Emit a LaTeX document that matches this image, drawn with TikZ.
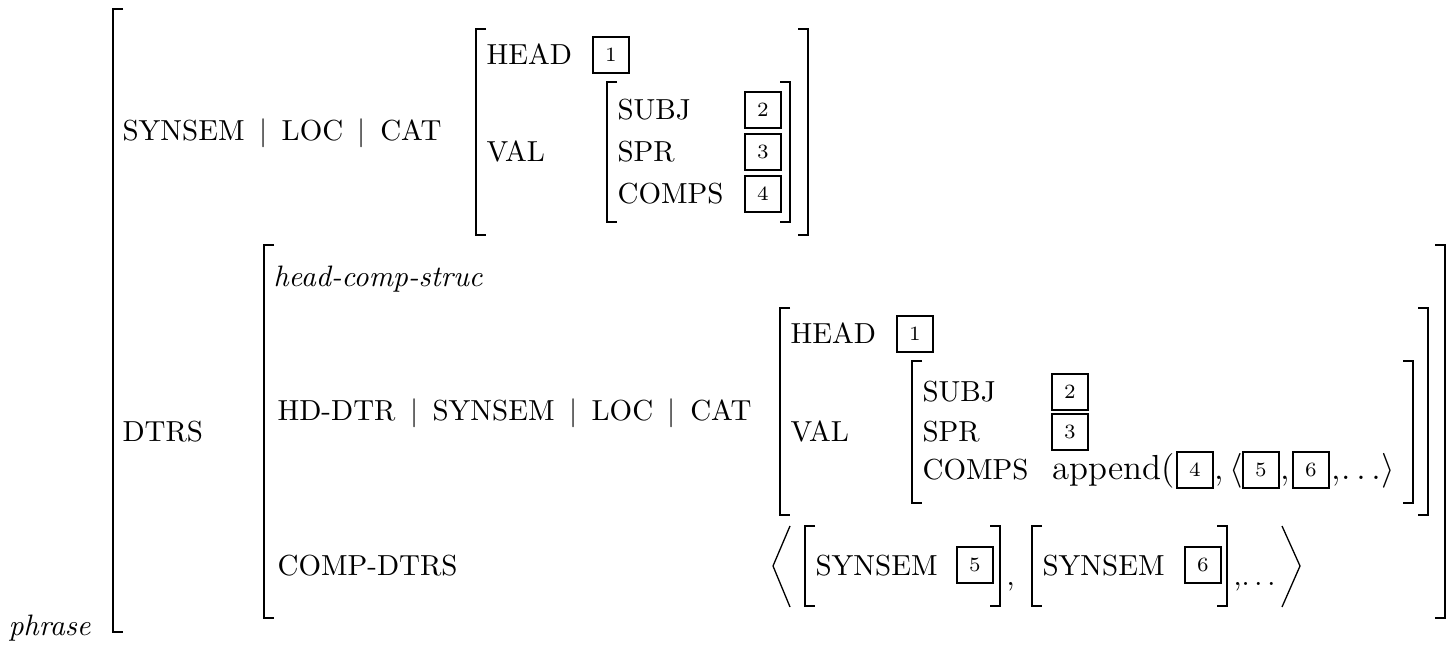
\documentclass[tikz,border=0pt]{standalone}
\newcommand{\corchI}[3]{\draw[corchete] ({#1+10},#2) -| (#1,#3) -- ({#1+10},#3);}
\newcommand{\corchD}[3]{\draw[corchete] ({#1-10},#2) -| (#1,#3) -- ({#1-10},#3);}
\newcommand{\barra}{\hspace{5pt}$|$\hspace{5pt}}
\begin{document}
\begin{tikzpicture}[x=0.345pt,y=-0.345pt,
  atr/.style={anchor=base west,inner sep=0pt,font=\fontsize{10}{12}\selectfont},
  tipo/.style={atr,font=\fontsize{10.2}{12}\selectfont\itshape},
  grande/.style={atr,font=\fontsize{12}{14}\selectfont},
  etiq/.style={draw,line width=0.95pt,minimum width=12.4pt,minimum height=12.4pt,inner sep=0pt,font=\fontsize{7}{8}\selectfont},
  corchete/.style={line width=0.93pt},
  angulo/.style={line width=0.45pt}]
\useasboundingbox (0,0) rectangle (1452,645);

% Corchete exterior
\corchI{113}{9}{632}
\node[tipo] (phr) at (8,636) {phrase};

% SYNSEM | LOC | CAT
\node[atr] (cam1) at (122,141) {SYNSEM\barra LOC\barra CAT};
\corchI{476}{29}{235}
\corchD{808}{29}{235}
\node[atr] (head1) at (486,65) {HEAD};
\node[etiq] (t1a) at (611,55) {1};
\node[atr] (val1) at (486,162) {VAL};
\corchI{607}{82}{222}
\corchD{790}{82}{222}
\node[atr] (subj1) at (617,120) {SUBJ};
\node[atr] (spr1) at (617,162) {SPR};
\node[atr] (comps1) at (617,204) {COMPS};
\node[etiq] (t2a) at (763,110) {2};
\node[etiq] (t3a) at (763,152) {3};
\node[etiq] (t4a) at (763,194) {4};

% DTRS
\node[atr] (dtrs) at (122,442) {DTRS};
\corchI{264}{245}{618}
\corchD{1445}{245}{618}
\node[tipo] (hcs) at (273,287) {head-comp-struc};
\node[atr] (cam2) at (277,421) {HD-DTR\barra SYNSEM\barra LOC\barra CAT};
\corchI{780}{308}{515}
\corchD{1428}{308}{515}
\node[atr] (head2) at (790,344) {HEAD};
\node[etiq] (t1b) at (915,334) {1};
\node[atr] (val2) at (790,442) {VAL};
\corchI{912}{361}{503}
\corchD{1413}{361}{503}
\node[atr] (subj2) at (922,402) {SUBJ};
\node[atr] (spr2) at (922,442) {SPR};
\node[atr] (comps2) at (922,480) {COMPS};
\node[etiq] (t2b) at (1070,392) {2};
\node[etiq] (t3b) at (1070,432) {3};

% append(4, <5, 6, ...>)
\node[grande] (ap) at (1052,480) {append(};
\node[etiq] (t4b) at (1195,470) {4};
\node[grande] (sep1) at (1214,480) {,\,$\langle$};
\node[etiq] (t5b) at (1261,470) {5};
\node[grande] (sep2) at (1280,480) {,};
\node[etiq] (t6b) at (1311,470) {6};
\node[grande] (sep3) at (1331,480) {,$\ldots\rangle$};

% COMP-DTRS
\node[atr] (cdtrs) at (277,576) {COMP-DTRS};
\draw[angulo] (790,526) -- (773,566) -- (790,607);
\corchI{805}{526}{606}
\node[atr] (syn5) at (815,576) {SYNSEM};
\node[etiq] (t5c) at (975,565) {5};
\corchD{1000}{526}{606}
\node[atr] (com1) at (1006,586) {,};
\corchI{1032}{526}{606}
\node[atr] (syn6) at (1042,576) {SYNSEM};
\node[etiq] (t6c) at (1203,565) {6};
\corchD{1227}{526}{606}
\node[atr] (com2) at (1233,586) {,$\ldots$};
\draw[angulo] (1282,526) -- (1300,566) -- (1282,607);
\end{tikzpicture}
\end{document}
